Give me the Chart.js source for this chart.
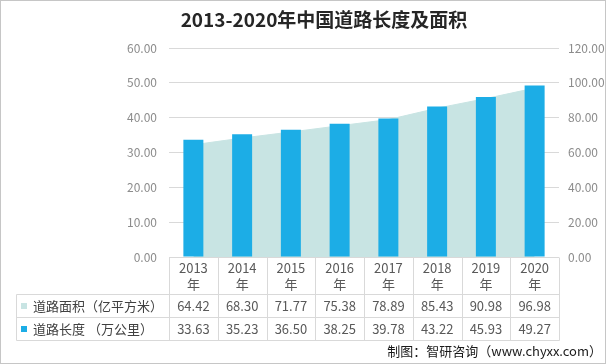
<!DOCTYPE html>
<html>
<head>
<meta charset="utf-8">
<script src="https://cdn.jsdelivr.net/npm/chart.js@4/dist/chart.umd.min.js"></script>
<style>
html,body{margin:0;padding:0;background:#fff;}
canvas{display:block;}
</style>
</head>
<body>
<canvas id="c" width="606" height="364"></canvas>
<script>
const categories = ["2013", "2014", "2015", "2016", "2017", "2018", "2019", "2020"];
const yearSuffix = "年";
const areaLabel = "道路面积（亿平方米）";
const lengthLabel = "道路长度 （万公里）";
const areaValues = [64.42, 68.30, 71.77, 75.38, 78.89, 85.43, 90.98, 96.98];
const lengthValues = [33.63, 35.23, 36.50, 38.25, 39.78, 43.22, 45.93, 49.27];
const leftTicks = [0, 10, 20, 30, 40, 50, 60];
const rightTicks = [0, 20, 40, 60, 80, 100, 120];
const titleText = "2013-2020年中国道路长度及面积";
const sourceText = "制图：智研咨询（www.chyxx.com）";

const BAR_COLOR = "#1CADE6";
const AREA_COLOR = "#C8E4E3";
const FONT = '"Noto Sans CJK SC", "Noto Sans", sans-serif';

const tablePlugin = {
  id: "tablePlugin",
  afterDraw(chart) {
    const ctx = chart.ctx;
    const x = chart.scales.x;
    const ca = chart.chartArea;
    const half = (x.getPixelForValue(1) - x.getPixelForValue(0)) / 2;
    const n = categories.length;
    const top = Math.round(ca.bottom) + 0.5;
    const r1 = 294.5, r2 = 317.5, r3 = 340.5;
    const leftX = 16.5;
    ctx.save();
    // frame
    ctx.strokeStyle = "#c6c6c6";
    ctx.lineWidth = 1;
    ctx.strokeRect(0.5, 0.5, 605, 363);
    // title
    ctx.fillStyle = "#262626";
    ctx.font = "bold 19px " + FONT;
    ctx.textAlign = "center";
    ctx.textBaseline = "middle";
    ctx.fillText(titleText, 324, 20);
    // table lines
    ctx.strokeStyle = "#d9d9d9";
    ctx.beginPath();
    for (let i = 0; i <= n; i++) {
      const bx = Math.round(x.getPixelForValue(i) - half) + 0.5;
      ctx.moveTo(bx, top);
      ctx.lineTo(bx, r3);
    }
    const rightX = Math.round(x.getPixelForValue(n - 1) + half) + 0.5;
    [r1, r2, r3].forEach(yy => { ctx.moveTo(leftX, yy); ctx.lineTo(rightX, yy); });
    ctx.moveTo(leftX, r1); ctx.lineTo(leftX, r3);
    ctx.stroke();
    // header + values
    ctx.fillStyle = "#595959";
    ctx.font = "13px " + FONT;
    ctx.textAlign = "center";
    for (let i = 0; i < n; i++) {
      const cx = x.getPixelForValue(i);
      ctx.fillText(categories[i], cx, 268);
      ctx.fillText(yearSuffix, cx, 284);
      ctx.fillText(areaValues[i].toFixed(2), cx, 306.5);
      ctx.fillText(lengthValues[i].toFixed(2), cx, 329.5);
    }
    // row labels with markers
    ctx.textAlign = "left";
    ctx.fillStyle = AREA_COLOR;
    ctx.fillRect(21, 303, 6, 6);
    ctx.fillStyle = BAR_COLOR;
    ctx.fillRect(21, 326, 6, 6);
    ctx.fillStyle = "#404040";
    ctx.font = "13px " + FONT;
    ctx.fillText(areaLabel, 33, 306);
    ctx.fillText(lengthLabel, 33, 329);
    // source
    ctx.fillStyle = "#1a1a1a";
    ctx.font = "13px " + FONT;
    ctx.textAlign = "right";
    ctx.fillText(sourceText, 602, 351);
    ctx.restore();
  }
};

new Chart(document.getElementById("c"), {
  data: {
    labels: categories,
    datasets: [
      {
        type: "bar",
        label: lengthLabel,
        data: lengthValues,
        yAxisID: "y",
        backgroundColor: BAR_COLOR,
        borderWidth: 0,
        categoryPercentage: 1,
        barPercentage: 0.41,
        order: 1
      },
      {
        type: "line",
        label: areaLabel,
        data: areaValues,
        yAxisID: "y2",
        backgroundColor: AREA_COLOR,
        borderColor: AREA_COLOR,
        borderWidth: 1,
        fill: "origin",
        pointRadius: 0,
        tension: 0,
        order: 2
      }
    ]
  },
  options: {
    responsive: false,
    animation: false,
    devicePixelRatio: 1,
    layout: { padding: { top: 48, bottom: 107, left: 0, right: 0 } },
    plugins: { legend: { display: false }, tooltip: { enabled: false }, title: { display: false } },
    scales: {
      x: {
        type: "category",
        offset: true,
        display: false,
        grid: { display: false }
      },
      y: {
        position: "left",
        min: 0, max: 60,
        afterBuildTicks(s) { s.ticks = leftTicks.map(v => ({ value: v })); },
        afterFit(s) { s.width = 169; },
        border: { display: false },
        grid: { color: "#d9d9d9", drawTicks: false },
        ticks: {
          padding: 12,
          color: "#8c8c8c",
          font: { size: 12, family: FONT },
          callback: v => Number(v).toFixed(2)
        }
      },
      y2: {
        position: "right",
        min: 0, max: 120,
        afterBuildTicks(s) { s.ticks = rightTicks.map(v => ({ value: v })); },
        afterFit(s) { s.width = 47; },
        border: { display: false },
        grid: { display: false, drawTicks: false },
        ticks: {
          padding: 9,
          color: "#8c8c8c",
          font: { size: 12, family: FONT },
          callback: v => Number(v).toFixed(2)
        }
      }
    }
  },
  plugins: [tablePlugin]
});
</script>
</body>
</html>
